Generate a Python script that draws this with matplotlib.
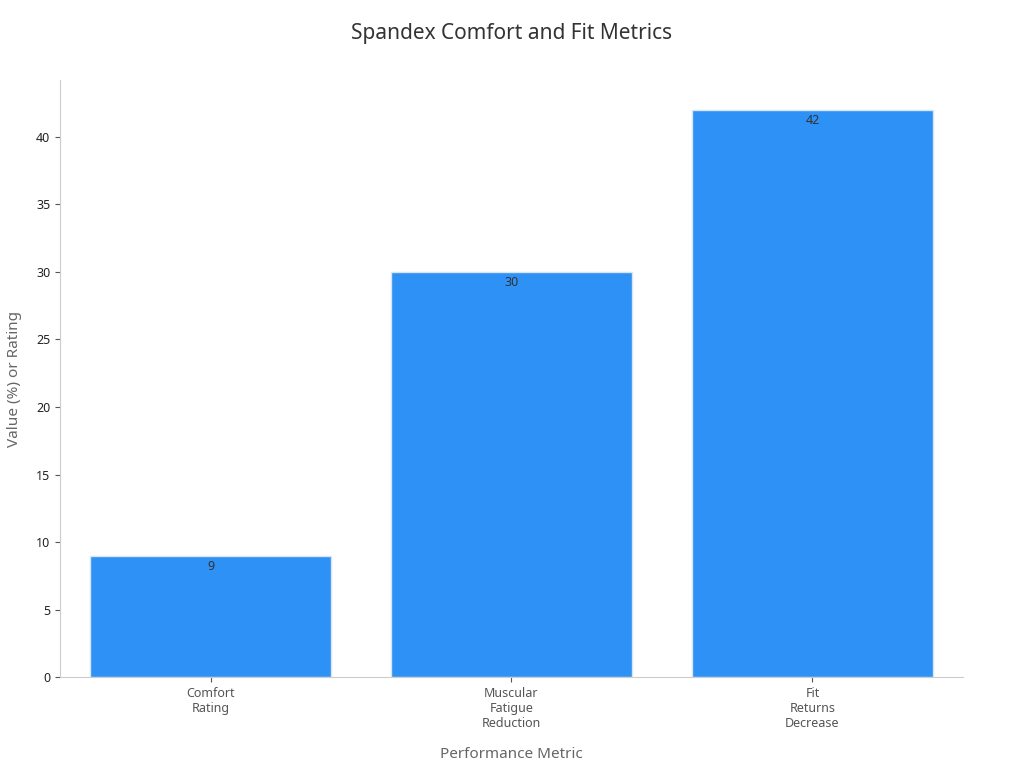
import matplotlib
matplotlib.use("Agg")
import matplotlib.pyplot as plt

categories = ["Comfort\nRating", "Muscular\nFatigue\nReduction", "Fit\nReturns\nDecrease"]
values = [9, 30, 42]

plt.rcParams['font.family'] = ['Noto Sans', 'DejaVu Sans']
fig = plt.figure(figsize=(10.24, 7.68), dpi=100)
ax = fig.add_axes([0.0586, 0.118, 0.8818, 0.778])
x = range(len(categories))
bars = ax.bar(x, values, width=0.8, color="#2E91F5", edgecolor="#D6E6F8", linewidth=1)
for b, v in zip(bars, values):
    ax.text(b.get_x() + b.get_width() / 2, v - 0.3, str(v), ha="center", va="top",
            fontsize=9, color="#333333")
ax.set_xlim(-0.5, 2.5)
ax.set_ylim(0, 44.2)
ax.set_yticks(range(0, 45, 5))
ax.set_xticks(list(x))
ax.set_xticklabels(categories, fontsize=9, color="#222222")
ax.tick_params(axis="y", labelsize=9, colors="#222222")
ax.tick_params(colors="#555555")
for lab in ax.get_yticklabels():
    lab.set_color("#222222")
for s in ["top", "right"]:
    ax.spines[s].set_visible(False)
for s in ["left", "bottom"]:
    ax.spines[s].set_color("#CCCCCC")
ax.set_xlabel("Performance Metric", fontsize=11, color="#666666", labelpad=12)
ax.set_ylabel("Value (%) or Rating", fontsize=11, color="#666666", labelpad=10)
fig.suptitle("Spandex Comfort and Fit Metrics", fontsize=15, color="#333333", y=0.97)
fig.savefig("out.png", dpi=100)
